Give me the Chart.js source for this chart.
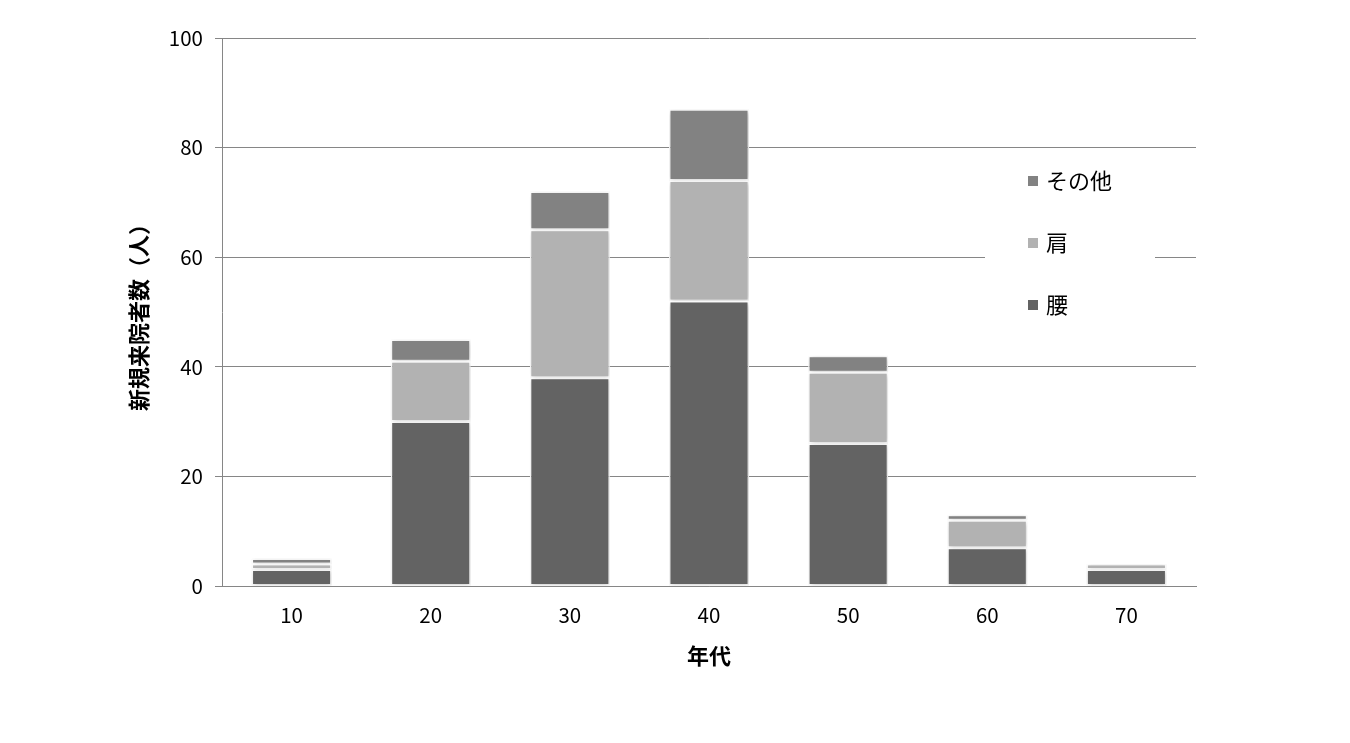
<!DOCTYPE html>
<html><head><meta charset="utf-8">
<script src="https://cdn.jsdelivr.net/npm/chart.js@4/dist/chart.umd.min.js"></script>
<style>html,body{margin:0;padding:0;background:#fff;}#wrap{width:1350px;height:743px;}</style>
</head><body><div id="wrap"><canvas id="c" width="1350" height="743"></canvas></div>
<script>
const categories = ['10','20','30','40','50','60','70'];
const koshi = [3, 30, 38, 52, 26, 7, 3];
const kata = [1, 11, 27, 22, 13, 5, 1];
const sonota = [1, 4, 7, 13, 3, 1, 0];
const seriesNames = ['腰', '肩', 'その他'];
const yTicks = [0, 20, 40, 60, 80, 100];
const yTitle = '新規来院者数（人）';
const xTitle = '年代';

const FONT = '"Noto Sans CJK JP", "Noto Sans", sans-serif';

const legendPlugin = {
  id: 'customLegend',
  afterDraw(chart) {
    const ctx = chart.ctx;
    ctx.save();
    ctx.fillStyle = '#fff';
    ctx.fillRect(985, 155, 170, 175);
    const ds = chart.data.datasets.slice().reverse();
    const ys = [181, 243, 305];
    ds.forEach((d, i) => {
      ctx.fillStyle = d.backgroundColor;
      ctx.fillRect(1028, ys[i] - 5, 10, 10);
      ctx.fillStyle = '#000';
      ctx.font = '22px ' + FONT;
      ctx.textBaseline = 'middle';
      ctx.textAlign = 'left';
      ctx.fillText(d.label, 1046, ys[i]);
    });
    ctx.restore();
  }
};

const shadowPlugin = {
  id: 'barShadow',
  beforeDatasetsDraw(chart) {
    const ctx = chart.ctx;
    ctx.save();
    ctx.shadowColor = 'rgba(0,0,0,0.22)';
    ctx.shadowBlur = 5;
    ctx.shadowOffsetX = 1;
    ctx.shadowOffsetY = 1;
  },
  afterDatasetsDraw(chart) {
    chart.ctx.restore();
  }
};

const common = { borderColor: '#ffffff', borderWidth: 1.5, barPercentage: 0.575, categoryPercentage: 1.0, borderSkipped: false };

new Chart(document.getElementById('c'), {
  type: 'bar',
  data: {
    labels: categories,
    datasets: [
      Object.assign({ label: seriesNames[0], data: koshi, backgroundColor: '#636363' }, common),
      Object.assign({ label: seriesNames[1], data: kata, backgroundColor: '#b2b2b2' }, common),
      Object.assign({ label: seriesNames[2], data: sonota, backgroundColor: '#828282' }, common)
    ]
  },
  options: {
    responsive: false,
    animation: false,
    devicePixelRatio: 1,
    layout: { padding: { left: 125, right: 154, top: 38, bottom: 74 } },
    plugins: { legend: { display: false }, tooltip: { enabled: false } },
    scales: {
      x: {
        stacked: true,
        grid: { display: false, drawTicks: false },
        border: { display: true, color: '#868686', width: 1 },
        ticks: { color: '#000', font: { size: 20.5, family: FONT }, padding: 17 },
        title: { display: true, text: xTitle, color: '#000', font: { size: 22, weight: 'bold', family: FONT }, padding: 0 },
        afterFit(s) { s.height = 83; }
      },
      y: {
        stacked: true,
        min: 0, max: 100,
        afterBuildTicks(s) { s.ticks = yTicks.map(v => ({ value: v })); },
        grid: { color: '#868686', lineWidth: 1, tickLength: 7, drawTicks: true },
        border: { display: true, color: '#868686', width: 1 },
        ticks: { color: '#000', font: { size: 20.5, family: FONT }, padding: 12 },
        title: { display: true, text: yTitle, color: '#000', font: { size: 22, weight: 'bold', family: FONT }, padding: 0 },
        afterFit(s) { s.width = 97; }
      }
    }
  },
  plugins: [shadowPlugin, legendPlugin]
});
</script></body></html>
